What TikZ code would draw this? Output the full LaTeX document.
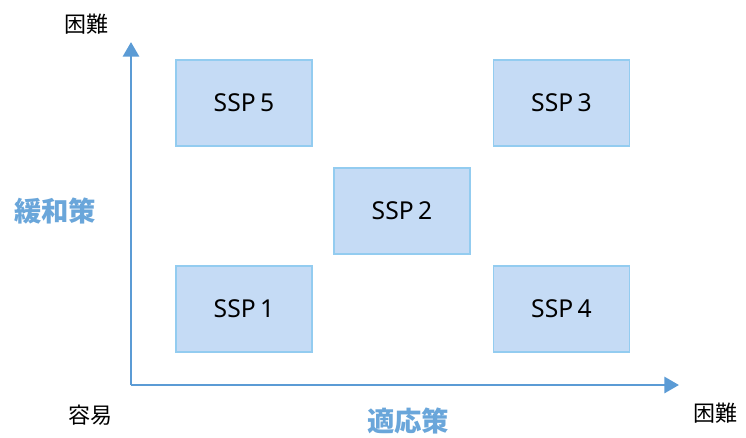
\documentclass[tikz,border=0pt]{standalone}
\usepackage{fontspec}
\setmainfont{Noto Sans}
\newfontfamily\cjk{Noto Sans CJK JP}
\usetikzlibrary{arrows.meta}
\definecolor{boxfill}{HTML}{C5DBF5}
\definecolor{boxline}{HTML}{93CCF0}
\definecolor{axisblue}{HTML}{5B9BD5}
\definecolor{labelblue}{HTML}{6AA6DA}
\tikzset{
  ssp/.style={draw=boxline, line width=1.1pt, fill=boxfill, minimum width=102pt, minimum height=64.5pt, inner sep=0pt, font=\fontsize{18.5}{20}\selectfont},
  axis/.style={draw=axisblue, line width=2.2pt, -{Triangle[length=11pt,width=12pt]}},
  endlabel/.style={font=\cjk\fontsize{16.5}{18}\selectfont, text=black, inner sep=0pt},
  axlabel/.style={font=\cjk\bfseries\fontsize{20.5}{22}\selectfont, text=labelblue, inner sep=0pt}
}
\newcommand{\ssptxt}[1]{SSP\hspace{0.18em}#1}
\begin{document}
\begin{tikzpicture}[x=0.75pt,y=-0.75pt]
\path[use as bounding box] (0,0) rectangle (746,437);
\node[ssp] (s5) at (244,103) {\ssptxt{5}};
\node[ssp] (s3) at (561.5,103) {\ssptxt{3}};
\node[ssp] (s2) at (402,211) {\ssptxt{2}};
\node[ssp] (s1) at (244,309) {\ssptxt{1}};
\node[ssp] (s4) at (561.5,309) {\ssptxt{4}};
\coordinate (o) at (131,385);
\coordinate (ytip) at (131,42);
\coordinate (xtip) at (679,385);
\draw[axis] (o) -- (ytip);
\draw[axis] (o) -- (xtip);
\node[endlabel] (ytop) at (86,24) {困難};
\node[endlabel] (orig) at (90,415) {容易};
\node[endlabel] (xend) at (715,413) {困難};
\node[axlabel] (xl) at (408,421) {適応策};
\node[axlabel] (yl) at (55,211) {緩和策};
\end{tikzpicture}
\end{document}
